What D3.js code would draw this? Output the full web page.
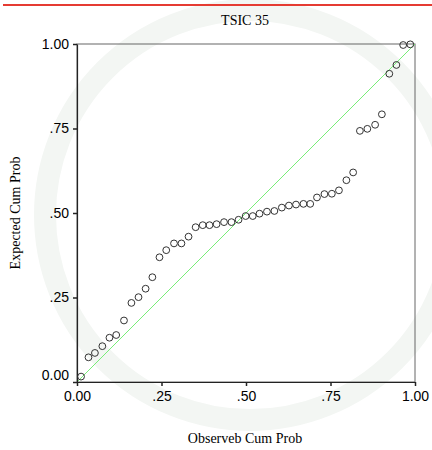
<!DOCTYPE html>
<html>
<head>
<meta charset="utf-8">
<script src="https://cdn.jsdelivr.net/npm/d3@7"></script>
<style>
  html, body { margin: 0; padding: 0; background: #fff; }
  svg { display: block; }
</style>
</head>
<body>
<div id="chart"></div>
<script>
// P-P plot values
const title = "TSIC 35";
const xTitle = "Observeb Cum Prob";
const yTitle = "Expected Cum Prob";
const tickValues = [0, 0.25, 0.5, 0.75, 1];
const tickLabels = ["0.00", ".25", ".50", ".75", "1.00"];

const observed = [
  0.012, 0.034, 0.053, 0.075, 0.096, 0.116, 0.139, 0.161, 0.182, 0.203,
  0.223, 0.244, 0.264, 0.287, 0.309, 0.330, 0.351, 0.372, 0.392, 0.413,
  0.435, 0.457, 0.478, 0.499, 0.520, 0.540, 0.562, 0.584, 0.606, 0.627,
  0.648, 0.670, 0.690, 0.710, 0.732, 0.754, 0.775, 0.797, 0.817, 0.837,
  0.859, 0.882, 0.902, 0.924, 0.945, 0.965, 0.986
];
const expected = [
  0.016, 0.073, 0.086, 0.106, 0.131, 0.139, 0.182, 0.234, 0.251, 0.276,
  0.310, 0.369, 0.390, 0.410, 0.410, 0.430, 0.458, 0.464, 0.464, 0.467,
  0.473, 0.473, 0.480, 0.491, 0.491, 0.498, 0.504, 0.506, 0.516, 0.522,
  0.525, 0.527, 0.527, 0.546, 0.556, 0.557, 0.567, 0.597, 0.620, 0.743,
  0.749, 0.761, 0.792, 0.912, 0.938, 0.997, 0.999
];
const refLine = [0, 1];

const W = 432, H = 450;
const plot = { left: 77, top: 44, right: 415, bottom: 382 };

const svg = d3.select("#chart").append("svg")
  .attr("width", W)
  .attr("height", H);

// very faint watermark ring behind everything
svg.append("circle")
  .attr("cx", 250).attr("cy", 215).attr("r", 205)
  .attr("fill", "none").attr("stroke", "#f3f6f3").attr("stroke-width", 22);

// red rule at the top of the page
svg.append("line")
  .attr("x1", 3).attr("x2", W).attr("y1", 5).attr("y2", 5)
  .attr("stroke", "#e53b32").attr("stroke-width", 2);

const x = d3.scaleLinear().domain([0, 1]).range([plot.left, plot.right]);
const y = d3.scaleLinear().domain([0, 1]).range([plot.bottom, plot.top]);

// frame (top and right)
svg.append("rect")
  .attr("x", plot.left).attr("y", plot.top)
  .attr("width", plot.right - plot.left).attr("height", plot.bottom - plot.top)
  .attr("fill", "none").attr("stroke", "#666").attr("stroke-width", 1);

// reference diagonal
svg.append("line")
  .attr("x1", x(refLine[0])).attr("y1", y(refLine[0]))
  .attr("x2", x(refLine[1])).attr("y2", y(refLine[1]))
  .attr("stroke", "#77ee77").attr("stroke-width", 1);

// axes
const fmt = d => tickLabels[tickValues.indexOf(d)];

const xAxis = svg.append("g")
  .attr("transform", `translate(0,${plot.bottom})`)
  .call(d3.axisBottom(x).tickValues(tickValues).tickFormat(fmt).tickSizeInner(4).tickSizeOuter(0));

const yAxis = svg.append("g")
  .attr("transform", `translate(${plot.left},0)`)
  .call(d3.axisLeft(y).tickValues(tickValues).tickFormat(fmt).tickSizeInner(4).tickSizeOuter(0));

[xAxis, yAxis].forEach(a => {
  a.select(".domain").attr("stroke", "#222").attr("stroke-width", 1.2);
  a.selectAll(".tick line").attr("stroke", "#222").attr("stroke-width", 1.5);
  a.selectAll(".tick text")
    .attr("font-family", "'Liberation Sans', Arial, sans-serif")
    .attr("font-size", 14)
    .attr("fill", "#000");
});
xAxis.selectAll(".tick text").attr("dy", "0.71em").attr("y", 9);
yAxis.selectAll(".tick text").attr("x", -8);
// SPSS nudges the bottom y label up so it clears the x label
yAxis.selectAll(".tick text").filter(d => d === 0).attr("dy", "-0.2em");

// points
svg.append("g")
  .selectAll("circle")
  .data(observed.map((o, i) => ({ o, e: expected[i] })))
  .join("circle")
    .attr("cx", d => x(d.o))
    .attr("cy", d => y(d.e))
    .attr("r", 3.4)
    .attr("fill", "none")
    .attr("stroke", "#333")
    .attr("stroke-width", 1);

// titles
const serif = "'Liberation Serif', 'Times New Roman', serif";
svg.append("text")
  .attr("x", 245).attr("y", 24.5)
  .attr("text-anchor", "middle")
  .attr("font-family", serif).attr("font-size", 14)
  .text(title);

svg.append("text")
  .attr("x", 245).attr("y", 442.5)
  .attr("text-anchor", "middle")
  .attr("font-family", serif).attr("font-size", 14)
  .text(xTitle);

svg.append("text")
  .attr("transform", `translate(20,${(plot.top + plot.bottom) / 2}) rotate(-90)`)
  .attr("text-anchor", "middle")
  .attr("font-family", serif).attr("font-size", 14)
  .text(yTitle);
</script>
</body>
</html>
